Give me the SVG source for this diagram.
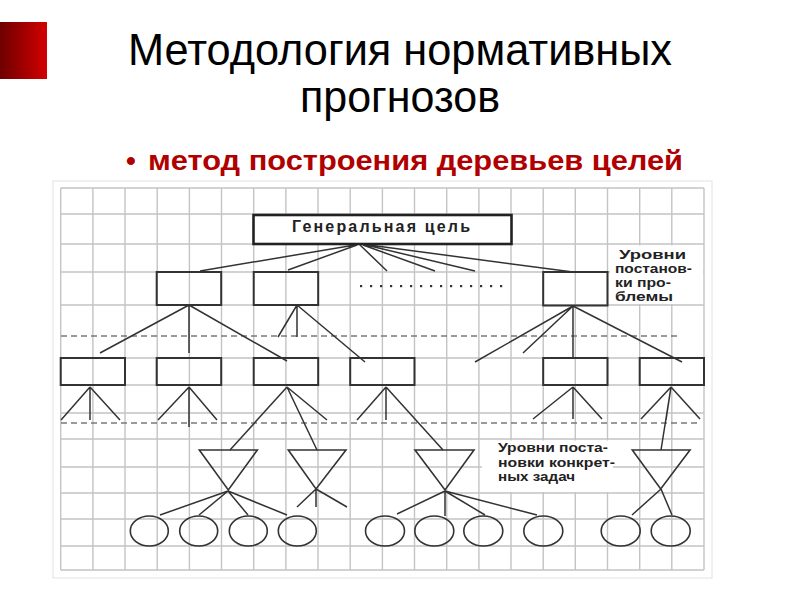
<svg xmlns="http://www.w3.org/2000/svg" width="800" height="600" viewBox="0 0 800 600">
<defs>
<linearGradient id="redg" x1="0" y1="0" x2="1" y2="0">
<stop offset="0" stop-color="#6e0000"/>
<stop offset="1" stop-color="#d40000"/>
</linearGradient>
<style>
.grid{stroke:#c4c4c4;stroke-width:1.4;fill:none}
.frame{stroke:#e2e2e2;stroke-width:1;fill:none}
.dash{stroke:#7a7a7a;stroke-width:1.6;stroke-dasharray:6 4;fill:none}
.box{stroke:#333;stroke-width:2;fill:none}
.gbox{stroke:#222;stroke-width:2.6;fill:#fff}
.shape{stroke:#333;stroke-width:1.6;fill:none}
.ln{stroke:#333;stroke-width:1.5;fill:none}
.title{font-family:"Liberation Sans",Arial,sans-serif;font-size:44px;fill:#000}
.sub{font-family:"Liberation Sans",Arial,sans-serif;font-size:28px;font-weight:bold;fill:#b00000}
.lbl{font-family:"Liberation Sans",Arial,sans-serif;font-size:12px;font-weight:bold;fill:#222}
.glbl{font-family:"Liberation Sans",Arial,sans-serif;font-size:16px;font-weight:bold;fill:#222}
</style>
</defs>
<rect width="800" height="600" fill="#fff"/>
<rect x="0" y="22" width="47" height="57" fill="url(#redg)"/>
<text class="title" x="400" y="65" text-anchor="middle" textLength="544" lengthAdjust="spacingAndGlyphs">Методология нормативных</text>
<text class="title" x="400" y="112" text-anchor="middle" textLength="200" lengthAdjust="spacingAndGlyphs">прогнозов</text>
<text class="sub" x="126" y="170">•</text>
<text class="sub" x="148" y="170" textLength="535" lengthAdjust="spacingAndGlyphs">метод построения деревьев целей</text>

<g id="grid">
<rect class="frame" x="53" y="181" width="659" height="397"/>
<path class="grid" d="M60.7 188V570M92.9 188V570M125 188V570M157.2 188V570M189.4 188V570M221.5 188V570M253.7 188V570M285.9 188V570M318 188V570M350.2 188V570M382.4 188V570M414.5 188V570M446.7 188V570M478.9 188V570M511 188V570M543.2 188V570M575.3 188V570M607.5 188V570M639.7 188V570M671.8 188V570M704 188V570
M60.7 188H704M60.7 214H704M60.7 244H704M60.7 272H704M60.7 305H704M60.7 358H704M60.7 385H704M60.7 413H704M60.7 439H704M60.7 467H704M60.7 493H704M60.7 519H704M60.7 546H704M60.7 570H704"/>
<path class="dash" d="M61 336H678M61 423H698"/>
<rect x="610" y="245.5" width="93" height="58.5" fill="#fff"/>
<rect x="482" y="440.5" width="131" height="51.5" fill="#fff"/>
</g>

<g id="connectors">
<path class="ln" d="M355 245L200 271M357 245L288 270M360 245L387 271M363 245L435 271M366 245L475 271M369 245L573 272"/>
<path class="ln" d="M189 305L100 353M189 305V353M189 305L287 361"/>
<path class="ln" d="M297 305L278 337M297 305V337M297 305L365 362"/>
<path class="ln" d="M573 306L475 362M573 306L523 353M573 306V358M573 306L682 362"/>
<path class="ln" d="M90 387L61 420M90 387V420M90 387L120 420"/>
<path class="ln" d="M189 387L158 420M189 387V427M189 387L217 420"/>
<path class="ln" d="M287 387L230 450M287 387L317 450M287 387L327 420"/>
<path class="ln" d="M386 387L357 420M386 387V420M386 387L443 450"/>
<path class="ln" d="M573 387L533 419M573 387V419M573 387L602 419"/>
<path class="ln" d="M671 387L641 419M671 387L700 419M671 387L661 450M671 387L666 420"/>
<path class="ln" d="M228 491L160 515M228 491L199 515M228 491L248 515M228 491L287 515"/>
<path class="ln" d="M316 489L297 507M316 489V507M316 489L347 507"/>
<path class="ln" d="M445 491L397 514M445 491V516M445 491L485 515M445 491L537 515"/>
<path class="ln" d="M661 489L632 515M661 489L672 515"/>
</g>

<g id="goal">
<rect class="gbox" x="253.5" y="215" width="258" height="29"/>
<text class="glbl" x="381" y="232" text-anchor="middle" textLength="178" lengthAdjust="spacing">Генеральная  цель</text>
</g>
<g id="l1-a"><rect class="box" x="156.7" y="272" width="64.5" height="33"/></g>
<g id="l1-b"><rect class="box" x="253.7" y="272" width="64.5" height="33"/></g>
<g id="l1-dots" fill="#333">
<rect x="360" y="285" width="2.2" height="2.2"/><rect x="370" y="285" width="2.2" height="2.2"/><rect x="380" y="285" width="2.2" height="2.2"/><rect x="390" y="285" width="2.2" height="2.2"/><rect x="400" y="285" width="2.2" height="2.2"/><rect x="410" y="285" width="2.2" height="2.2"/><rect x="420" y="285" width="2.2" height="2.2"/><rect x="430" y="285" width="2.2" height="2.2"/><rect x="440" y="285" width="2.2" height="2.2"/><rect x="450" y="285" width="2.2" height="2.2"/><rect x="460" y="285" width="2.2" height="2.2"/><rect x="470" y="285" width="2.2" height="2.2"/><rect x="480" y="285" width="2.2" height="2.2"/><rect x="490" y="285" width="2.2" height="2.2"/><rect x="500" y="285" width="2.2" height="2.2"/>
</g>
<g id="l1-c"><rect class="box" x="543.2" y="272" width="64.3" height="33.5"/></g>

<g id="l2-1"><rect class="box" x="60.7" y="358" width="64.3" height="27"/></g>
<g id="l2-2"><rect class="box" x="156.7" y="358" width="64.5" height="27"/></g>
<g id="l2-3"><rect class="box" x="253.7" y="358" width="64.5" height="27"/></g>
<g id="l2-4"><rect class="box" x="350.2" y="358" width="64.3" height="27"/></g>
<g id="l2-5"><rect class="box" x="543.2" y="358" width="64.3" height="27"/></g>
<g id="l2-6"><rect class="box" x="639.7" y="358" width="64.3" height="27"/></g>

<g id="t1"><polygon class="shape" points="199.3,450 257.3,450 228.3,490"/></g>
<g id="t2"><polygon class="shape" points="288.3,450 346,450 316,489"/></g>
<g id="t3"><polygon class="shape" points="415,450 474,450 445,490"/></g>
<g id="t4"><polygon class="shape" points="632.3,450 690,450 660.7,489"/></g>

<g id="c1"><ellipse class="shape" cx="149.3" cy="531" rx="19" ry="15"/></g>
<g id="c2"><ellipse class="shape" cx="198.7" cy="531" rx="19" ry="15"/></g>
<g id="c3"><ellipse class="shape" cx="248.3" cy="531" rx="19" ry="15"/></g>
<g id="c4"><ellipse class="shape" cx="297.3" cy="531" rx="19" ry="15"/></g>
<g id="c5"><ellipse class="shape" cx="385" cy="531" rx="19.5" ry="15"/></g>
<g id="c6"><ellipse class="shape" cx="434.3" cy="531" rx="19.5" ry="15"/></g>
<g id="c7"><ellipse class="shape" cx="483.3" cy="531" rx="19.5" ry="15"/></g>
<g id="c8"><ellipse class="shape" cx="543.3" cy="531" rx="19.5" ry="15"/></g>
<g id="c9"><ellipse class="shape" cx="620.7" cy="531" rx="19.5" ry="15"/></g>
<g id="c10"><ellipse class="shape" cx="670.7" cy="531" rx="19.5" ry="15"/></g>

<g id="label-problem">
<text class="lbl" x="619" y="259" textLength="67" lengthAdjust="spacingAndGlyphs">Уровни</text>
<text class="lbl" x="615" y="273" textLength="77" lengthAdjust="spacingAndGlyphs">постанов-</text>
<text class="lbl" x="615" y="287" textLength="56" lengthAdjust="spacingAndGlyphs">ки про-</text>
<text class="lbl" x="615" y="300.5" textLength="58" lengthAdjust="spacingAndGlyphs">блемы</text>
</g>
<g id="label-tasks">
<text class="lbl" x="498" y="451.5" textLength="110" lengthAdjust="spacingAndGlyphs">Уровни поста-</text>
<text class="lbl" x="498" y="466.5" textLength="117" lengthAdjust="spacingAndGlyphs">новки конкрет-</text>
<text class="lbl" x="498" y="480.5" textLength="77" lengthAdjust="spacingAndGlyphs">ных задач</text>
</g>
</svg>
